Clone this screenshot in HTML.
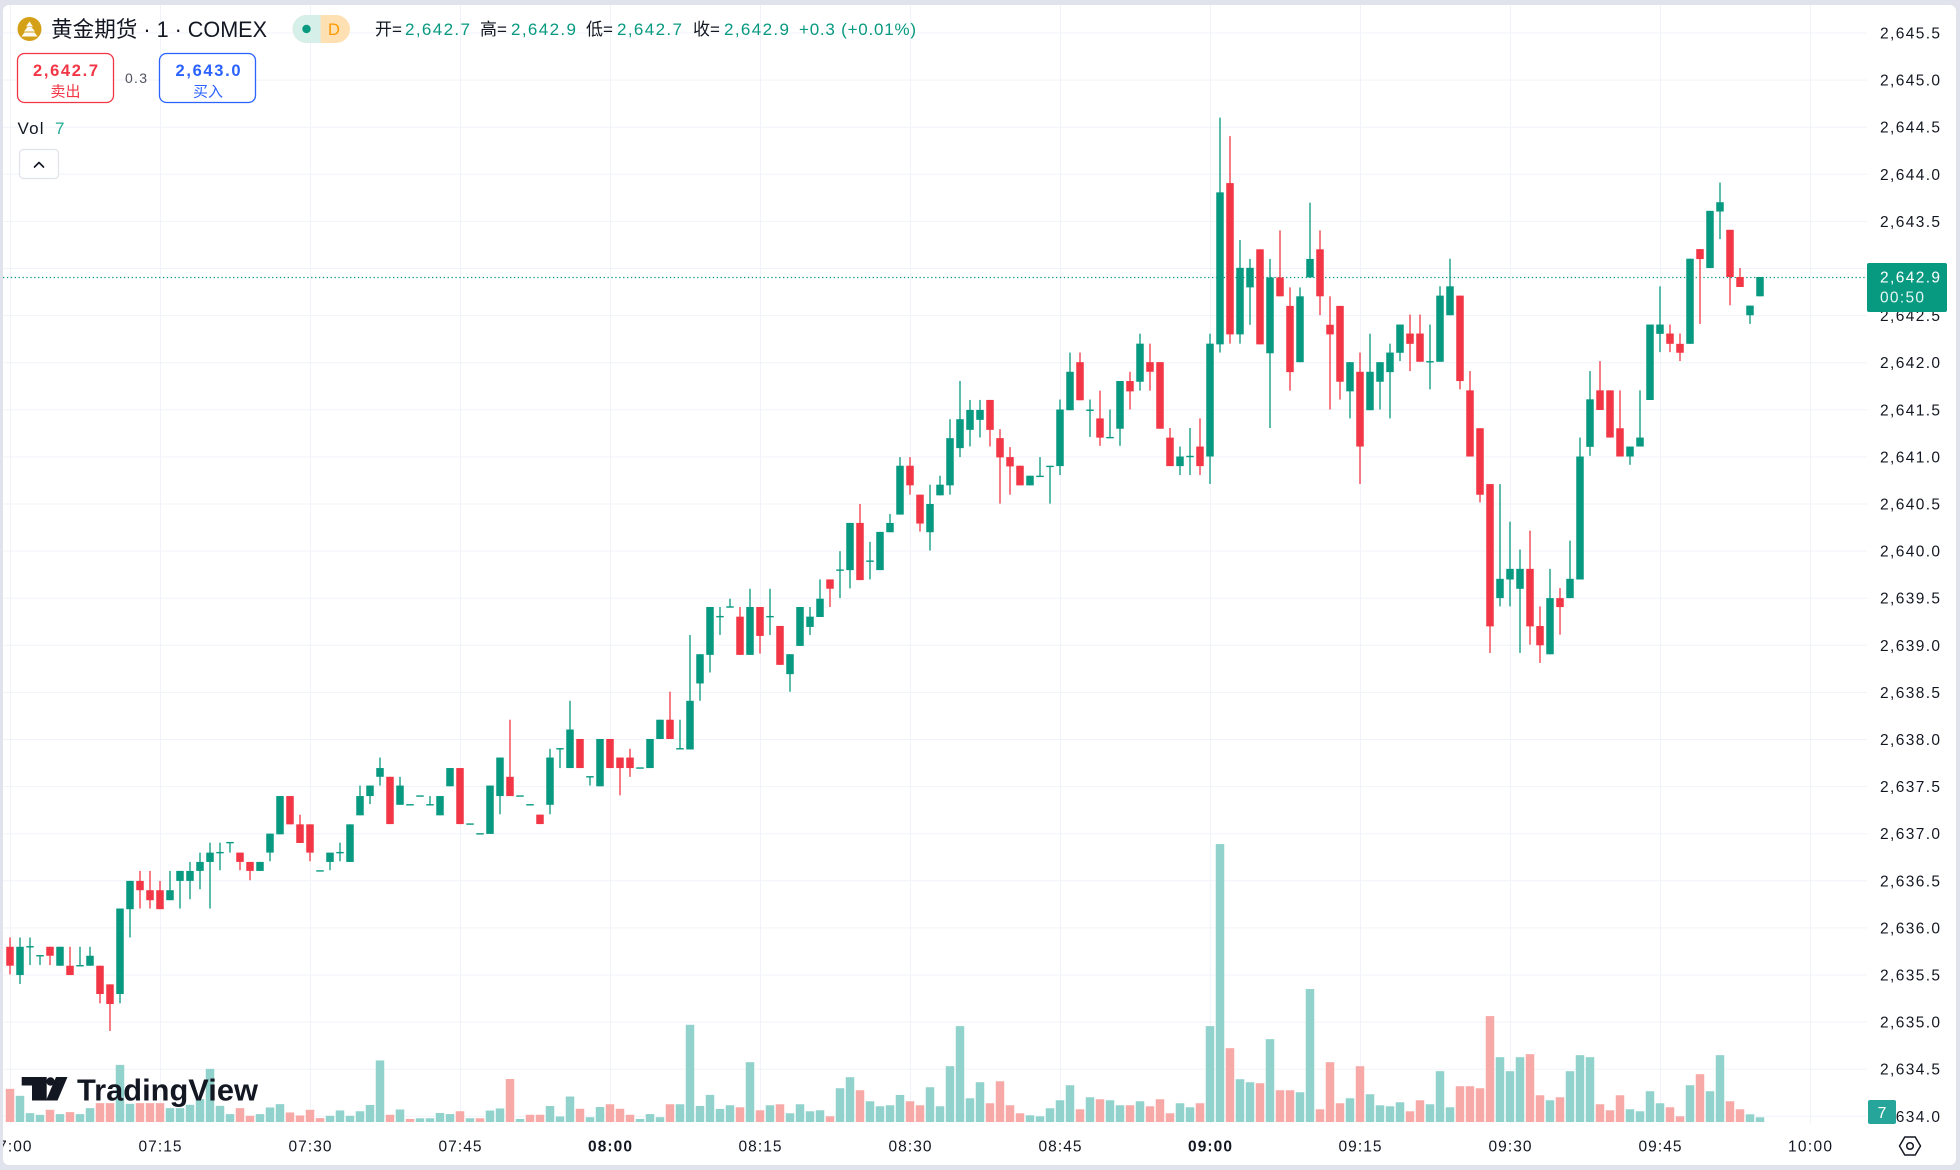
<!DOCTYPE html>
<html><head><meta charset="utf-8"><style>
html,body{margin:0;padding:0;background:#e0e3eb;}
svg{display:block;}
text{font-family:"Liberation Sans","Noto Sans CJK SC",sans-serif;}
</style></head><body>
<svg id="s" width="1960" height="1170" viewBox="0 0 1960 1170" xmlns="http://www.w3.org/2000/svg">
<defs><clipPath id="cp"><rect x="3" y="5" width="1864" height="1119"/></clipPath>
<clipPath id="pp"><rect x="3" y="5" width="1953" height="1160" rx="6"/></clipPath></defs>
<rect width="1960" height="1170" fill="#e0e3eb"/>
<rect x="3" y="5" width="1953" height="1160" rx="6" fill="#ffffff"/>
<g id="grid" stroke="#f0f3fa" stroke-width="1"></g>
<g clip-path="url(#cp)">
<g id="vol"></g>
<line x1="3" y1="277.5" x2="1867" y2="277.5" stroke="#089981" stroke-width="1.2" stroke-dasharray="1.3 2.6"/>
<g id="cdl"></g>
</g>
<!-- TradingView logo -->
<g fill="#131722">
<path d="M21.7 1077H46.7V1100.5H32V1085.5H21.7Z"/>
<circle cx="50.5" cy="1081.5" r="4.2"/>
<path d="M56 1077H67.5L57.5 1100.5H46Z"/>
<text x="77" y="1100.5" font-size="31" font-weight="bold" textLength="181" lengthAdjust="spacingAndGlyphs">TradingView</text>
</g>
<!-- price axis labels -->
<g font-size="15.5" fill="#131722" text-anchor="end">
<text x="1940" y="38.5" textLength="60">2,645.5</text>
<text x="1940" y="85.6" textLength="60">2,645.0</text>
<text x="1940" y="132.7" textLength="60">2,644.5</text>
<text x="1940" y="179.8" textLength="60">2,644.0</text>
<text x="1940" y="226.9" textLength="60">2,643.5</text>
<text x="1940" y="274" textLength="60">2,643.0</text>
<text x="1940" y="321.1" textLength="60">2,642.5</text>
<text x="1940" y="368.2" textLength="60">2,642.0</text>
<text x="1940" y="415.3" textLength="60">2,641.5</text>
<text x="1940" y="462.4" textLength="60">2,641.0</text>
<text x="1940" y="509.5" textLength="60">2,640.5</text>
<text x="1940" y="556.6" textLength="60">2,640.0</text>
<text x="1940" y="603.7" textLength="60">2,639.5</text>
<text x="1940" y="650.8" textLength="60">2,639.0</text>
<text x="1940" y="697.9" textLength="60">2,638.5</text>
<text x="1940" y="745" textLength="60">2,638.0</text>
<text x="1940" y="792.1" textLength="60">2,637.5</text>
<text x="1940" y="839.2" textLength="60">2,637.0</text>
<text x="1940" y="886.3" textLength="60">2,636.5</text>
<text x="1940" y="933.4" textLength="60">2,636.0</text>
<text x="1940" y="980.5" textLength="60">2,635.5</text>
<text x="1940" y="1027.6" textLength="60">2,635.0</text>
<text x="1940" y="1074.7" textLength="60">2,634.5</text>
<text x="1940" y="1121.8" textLength="60">2,634.0</text>
</g>
<!-- current price box -->
<rect x="1867" y="263" width="80" height="49" rx="2" fill="#089981"/>
<text x="1880" y="282.5" font-size="15.5" fill="#ffffff" textLength="60">2,642.9</text>
<text x="1880" y="302.5" font-size="15.5" fill="#e6f7f3" textLength="44">00:50</text>
<!-- volume label -->
<rect x="1868" y="1100" width="28" height="24" rx="2" fill="#26a69a"/>
<text x="1882" y="1118" font-size="16" fill="#ffffff" text-anchor="middle">7</text>
<!-- time axis -->
<g clip-path="url(#pp)" font-size="15.5" fill="#131722" text-anchor="middle">
<text x="10" y="1151.5" textLength="43">07:00</text>
<text x="160" y="1151.5" textLength="43">07:15</text>
<text x="310" y="1151.5" textLength="43">07:30</text>
<text x="460" y="1151.5" textLength="43">07:45</text>
<text x="610" y="1151.5" textLength="44" font-weight="bold">08:00</text>
<text x="760" y="1151.5" textLength="43">08:15</text>
<text x="910" y="1151.5" textLength="43">08:30</text>
<text x="1060" y="1151.5" textLength="43">08:45</text>
<text x="1210" y="1151.5" textLength="44" font-weight="bold">09:00</text>
<text x="1360" y="1151.5" textLength="43">09:15</text>
<text x="1510" y="1151.5" textLength="43">09:30</text>
<text x="1660" y="1151.5" textLength="43">09:45</text>
<text x="1810" y="1151.5" textLength="44">10:00</text>
</g>
<!-- settings icon -->
<polygon points="1899.5,1146 1904.8,1137 1915.2,1137 1920.5,1146 1915.2,1155 1904.8,1155" fill="none" stroke="#131722" stroke-width="1.5" stroke-linejoin="round"/>
<circle cx="1910" cy="1146" r="3.3" fill="none" stroke="#131722" stroke-width="1.5"/>
<!-- header -->
<circle cx="29.5" cy="29" r="12" fill="#d4a017"/>
<path d="M29.5 21.5L33 26.5H26Z M24 31.5L27.5 27H31.5L35 31.5Z M21.5 36.5L24.5 32.5H34.5L37.5 36.5Z" fill="#ffffff" opacity="0.95"/>
<text x="51" y="37" font-size="22" fill="#131722" textLength="216" lengthAdjust="spacingAndGlyphs">黄金期货 · 1 · COMEX</text>
<rect x="292.5" y="15" width="57.5" height="28" rx="14" fill="#ffe0b2"/>
<path d="M306.5 15H320.6V43H306.5A14 14 0 0 1 306.5 15Z" fill="#d6efe9"/>
<circle cx="306.5" cy="29" r="4.2" fill="#089981"/>
<text x="334" y="35" font-size="16.5" fill="#ff9800" text-anchor="middle">D</text>
<g font-size="17">
<text x="375" y="35" fill="#131722">开=</text>
<text x="405" y="35" fill="#089981" textLength="65">2,642.7</text>
<text x="480" y="35" fill="#131722">高=</text>
<text x="511" y="35" fill="#089981" textLength="65">2,642.9</text>
<text x="586" y="35" fill="#131722">低=</text>
<text x="617" y="35" fill="#089981" textLength="65">2,642.7</text>
<text x="693" y="35" fill="#131722">收=</text>
<text x="724" y="35" fill="#089981" textLength="65">2,642.9</text>
<text x="799" y="35" fill="#089981" textLength="117">+0.3 (+0.01%)</text>
</g>
<rect x="17.5" y="53.5" width="96" height="49" rx="7" fill="#ffffff" stroke="#f23645" stroke-width="1.3"/>
<text x="65.5" y="76" font-size="16.5" font-weight="bold" fill="#f23645" text-anchor="middle" textLength="65">2,642.7</text>
<text x="65.5" y="96.5" font-size="15" fill="#f23645" text-anchor="middle">卖出</text>
<text x="125" y="83" font-size="14" fill="#50535e" textLength="22">0.3</text>
<rect x="159.5" y="53.5" width="96" height="49" rx="7" fill="#ffffff" stroke="#2962ff" stroke-width="1.3"/>
<text x="208" y="76" font-size="16.5" font-weight="bold" fill="#2962ff" text-anchor="middle" textLength="65">2,643.0</text>
<text x="208" y="96.5" font-size="15" fill="#2962ff" text-anchor="middle">买入</text>
<text x="17.5" y="134" font-size="17" fill="#131722" textLength="26">Vol</text>
<text x="55" y="134" font-size="17" fill="#22ab94">7</text>
<rect x="19.5" y="149.5" width="39" height="29" rx="4" fill="#ffffff" stroke="#e0e3eb" stroke-width="1.2"/>
<path d="M34.5 167L39 162.5L43.5 167" fill="none" stroke="#131722" stroke-width="1.6" stroke-linecap="round" stroke-linejoin="round"/>
</svg>
<script>
(function(){
var NS='http://www.w3.org/2000/svg';
function el(p,t,a){var e=document.createElementNS(NS,t);for(var k in a)e.setAttribute(k,a[k]);p.appendChild(e);return e;}
var grid=document.getElementById('grid');
for(var k=0;k<=23;k++){var y=(33+47.1*k).toFixed(1);el(grid,'line',{x1:3,y1:y,x2:1867,y2:y});}
for(var i=0;i<=180;i+=15){var x=10+10*i+0.5;el(grid,'line',{x1:x,y1:5,x2:x,y2:1124});}
var A=function(z){return 739.5+(z-62)*0.3327;};
var B=function(z){return 598.2+(z-55)*0.3502;};
var C=function(z){return 362.7+(z-38)*0.3324;};
var D=function(z){return 127.2+(z-75)*0.356;};
var E=function(z){return 174.3+(z-43)*0.3324;};
var F=function(z){return 1022.1+(z-72)*0.334;};
var Z3="0 r 685 742 657 768;1 g 685 770 657 797;2 g 685 685 657 740;3 g 712 712 712 740;4 r 685 712 685 740;5 g 685 742 685 742;6 r 742 770 685 770;7 g 742 742 685 742;8 g 712 742 685 742;9 r 742 827 742 855;10 r 798 857 798 938;11 g 570 827 570 855;12 g 487 572 487 657;13 r 487 515 457 570;14 r 515 545 457 570;15 r 515 572 487 572;16 g 515 545 457 545;17 g 457 487 457 570;18 g 457 487 430 542;19 g 430 457 402 512;20 g 402 430 372 570;21 g 402 402 372 455;22 g 372 372 372 402;23 r 402 430 402 455;24 r 430 457 430 485;25 g 430 457 430 457;26 g 345 402 345 428;27 g 232 347 232 347;28 r 232 317 232 317;29 r 317 373 288 373;30 r 317 402 317 428;31 g 457 457 457 457;32 g 402 430 402 455;33 g 402 402 372 428;34 g 317 430 317 430";
var Z4="35 g 620 675 590 675;36 g 590 620 590 643;37 g 540 565 510 590;38 r 565 700 565 700;39 g 590 645 565 645;40 g 645 645 645 645;41 g 620 620 620 620;42 g 645 645 620 645;43 g 620 675 620 675;44 g 540 592 540 592;45 r 540 700 540 700;46 g 700 700 700 700;47 g 728 728 728 728;48 g 590 728 590 728;49 g 510 620 510 672;50 r 565 620 402 620;51 g 620 620 620 620;52 g 645 645 645 645;53 r 673 700 673 700;54 g 510 645 485 672;55 g 485 485 485 540;56 g 430 540 348 540;57 r 457 540 457 540;58 g 565 565 565 590;59 g 457 592 457 592;60 r 457 540 457 540;61 r 510 540 510 618;62 r 510 540 485 565;63 g 540 540 540 540;64 g 457 540 457 540;65 g 402 457 402 457;66 r 402 457 322 457;67 g 485 485 402 485;68 g 348 487 160 487";
var Z5="69 g 915 1003 915 1055;70 g 773 917 773 970;71 g 802 802 773 857;72 g 773 773 748 773;73 r 802 917 773 917;74 g 773 917 718 917;75 r 773 860 773 913;76 g 802 802 718 857;77 r 830 947 830 947;78 g 915 975 915 1028;79 g 773 890 773 890;80 g 802 833 773 857;81 g 748 803 690 803;82 r 690 718 690 773;83 g 662 662 605 746;84 g 520 662 520 717;85 r 520 692 463 692;86 g 635 635 577 690;87 g 547 662 547 662;88 g 520 548 493 548;89 g 348 495 322 495;90 r 348 407 322 435;91 r 435 522 435 546;92 g 463 548 405 603;93 g 405 437 378 437;94 g 265 407 208 435;95 g 208 295 93 322;96 g 180 240 150 290;97 g 180 210 150 263;98 r 150 240 150 290;99 r 265 323 238 462;100 r 322 350 292 435;101 r 348 407 348 407;102 g 378 407 378 407;103 g 380 380 322 380;104 g 350 350 350 462";
var Z6="105 g 868 1027 840 1052;106 g 762 870 708 870;107 r 735 842 708 842;108 g 870 870 840 945;109 r 893 947 815 970;110 g 947 947 868 947;111 g 788 922 788 970;112 r 788 817 762 868;113 g 683 790 655 815;114 r 735 762 683 815;115 r 735 922 735 922;116 r 947 1027 920 1027;117 g 1000 1027 972 1052;118 g 1000 1000 920 1052;119 r 972 1027 893 1052;120 g 683 1000 655 1077;121 g 258 685 48 708;122 r 232 657 100 683;123 g 470 657 392 683;124 g 470 525 445 630;125 r 418 685 418 685;126 g 497 710 445 920;127 r 497 550 365 550;128 r 577 763 525 815;129 g 550 735 525 735;130 g 445 497 287 497;131 r 418 550 365 603;132 r 630 657 550 868;133 r 577 790 577 840;134 g 735 817 735 893;135 r 762 972 708 1077;136 g 762 870 655 870;137 g 735 790 735 868;138 g 708 763 683 893";
var Z7="139 g 495 580 495 605;140 r 522 553 465 635;141 r 522 607 465 607;142 g 607 607 495 690;143 g 408 607 380 607;144 g 380 467 297 467;145 r 408 665 408 690;146 r 693 892 635 892;147 r 807 1007 807 1030;148 r 975 1403 975 1483;149 g 1260 1318 975 1343;150 g 1230 1262 1088 1343;151 g 1230 1290 1172 1483;152 r 1230 1403 1115 1458;153 r 1402 1460 1343 1513;154 g 1318 1487 1230 1487;155 r 1318 1345 1288 1428;156 g 1260 1318 1145 1318;157 g 892 1262 835 1262;158 g 720 863 635 890;159 r 693 752 605 752;160 r 693 835 693 835;161 r 807 892 693 892;162 g 862 892 862 917;163 g 835 862 693 862;164 g 495 722 495 722;165 g 495 523 380 578;166 r 522 553 495 578;167 r 553 580 522 605;168 g 297 553 297 553;169 r 268 298 268 493;170 g 153 325 153 325;171 g 127 155 68 238;172 r 210 352 210 437;173 r 352 382 325 382;174 g 438 467 438 493;175 g 352 410 352 410";
var VA="0 r 1112;1 g 1133;2 g 1185;3 g 1190;4 r 1175;5 g 1188;6 r 1182;7 g 1188;8 g 1170;9 r 1155;10 r 1155;11 g 1040;12 g 1157;13 r 1155;14 r 1155;15 r 1155;16 g 1170;17 g 1170;18 g 1160;19 g 1143;20 g 1052;21 g 1163;22 g 1188;23 r 1170;24 r 1193;25 g 1188;26 g 1168;27 g 1158;28 r 1183;29 r 1192;30 r 1175;31 r 1200;32 g 1193;33 g 1177;34 g 1193";
var VB="35 g 1520;36 g 1502;37 g 1375;38 r 1530;39 g 1515;40 r 1542;41 g 1540;42 g 1540;43 g 1525;44 g 1528;45 r 1520;46 g 1540;47 r 1540;48 g 1518;49 g 1512;50 r 1428;51 g 1542;52 r 1530;53 r 1530;54 g 1505;55 g 1535;56 g 1478;57 r 1513;58 g 1537;59 g 1508;60 r 1500;61 r 1513;62 r 1530;63 g 1542;64 g 1528;65 g 1537;66 r 1500";
var VF="67 g 318;68 g 80;69 g 323;70 g 290;71 g 332;72 g 321;73 r 327;74 g 192;75 r 336;76 g 321;77 r 318;78 g 345;79 g 318;80 g 339;81 g 336;82 r 354;83 g 270;84 g 237;85 r 276;86 g 309;87 g 324;88 g 321;89 g 290;90 r 309;91 r 321;92 g 267;93 g 324;94 g 204;95 g 84;96 g 300;97 g 252;98 r 315;99 r 249;100 r 321;101 r 345;102 g 351;103 g 354;104 g 330;105 g 306;106 g 261;107 r 333;108 g 297;109 r 303;110 g 306;111 g 321;112 r 321;113 g 309;114 r 324;115 r 303;116 r 345;117 g 315;118 g 327;119 r 315;120 g 84;121 g -461;122 r 150;123 g 243;124 g 252;125 r 255;126 g 123;127 r 276;128 r 276;129 g 282;130 g -27;131 r 333;132 r 192;133 r 315;134 g 300;135 r 204;136 g 288;137 g 321;138 g 324;139 g 312;140 r 339;141 r 306;142 g 318;143 g 219;144 g 327;145 r 264;146 r 264;147 r 270;148 r 54;149 g 177;150 g 219;151 g 177;152 r 168;153 r 291;154 g 306;155 r 297;156 g 219;157 g 171;158 g 177;159 r 318;160 r 336;161 r 291;162 g 333;163 g 339;164 g 279;165 g 315;166 r 327;167 r 354;168 g 261;169 r 228;170 g 279;171 g 171;172 r 309;173 r 333;174 g 348;175 g 357";
var cdl=document.getElementById('cdl'),vol=document.getElementById('vol');
function candles(f,str){str.split(';').forEach(function(t){var a=t.trim().split(/\s+/);if(a.length<4)return;
var i=+a[0],col=a[1]=='r'?'#f23645':'#089981';var bt=f(+a[2]),bb=f(+a[3]);var wt=f(+(a[4]||a[2])),wb=f(+(a[5]||a[3]));
var x=10+10*i;
if(wb-wt>0.5)el(cdl,'rect',{x:(x-0.65).toFixed(2),y:wt.toFixed(2),width:1.3,height:(wb-wt).toFixed(2),fill:col});
if(bb-bt<1.5){var m=(bt+bb)/2;el(cdl,'rect',{x:x-3.75,y:(m-0.7).toFixed(2),width:7.5,height:1.4,fill:col});}
else el(cdl,'rect',{x:x-3.75,y:bt.toFixed(2),width:7.5,height:(bb-bt).toFixed(2),fill:col});
});}
function vols(f,str){str.split(';').forEach(function(t){var a=t.trim().split(/\s+/);if(a.length<3)return;
var i=+a[0],col=a[1]=='r'?'#f7a9a7':'#92d2cc';var y=f(+a[2]);var x=10+10*i;
el(vol,'rect',{x:(x-4.25).toFixed(2),y:y.toFixed(2),width:8.5,height:(1122-y).toFixed(2),fill:col});
});}
vols(A,VA);vols(B,VB);vols(F,VF);
candles(A,Z3);candles(B,Z4);candles(C,Z5);candles(D,Z6);candles(E,Z7);
})();
</script>
</body></html>
